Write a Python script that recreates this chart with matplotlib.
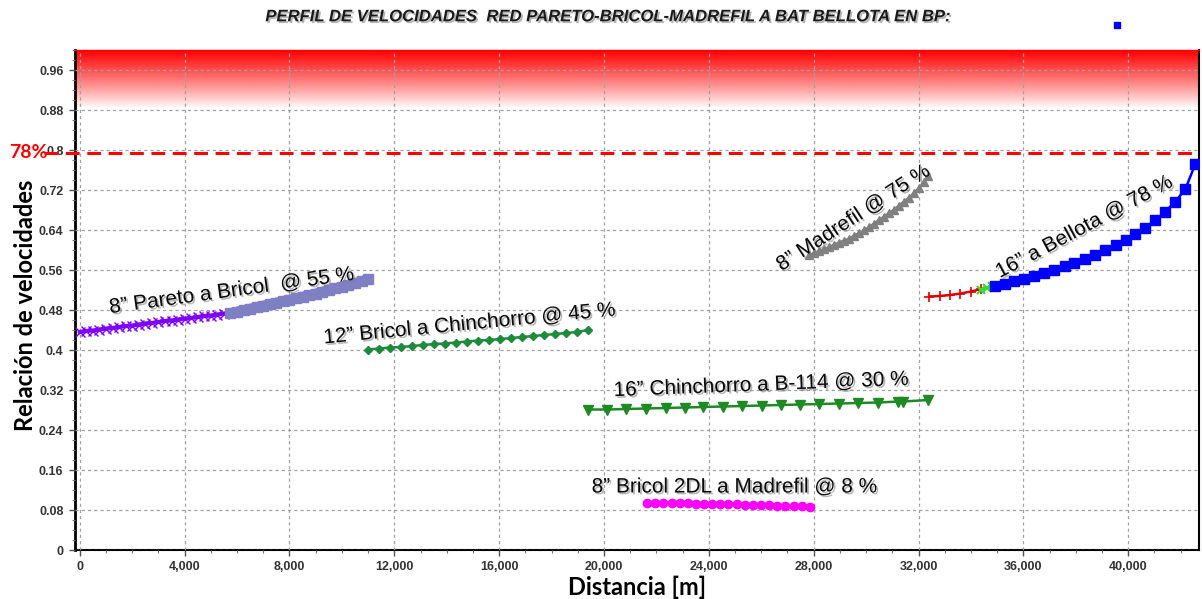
import numpy as np
import matplotlib
matplotlib.use("Agg")
import matplotlib.pyplot as plt
import matplotlib.patheffects as pe
from matplotlib.colors import LinearSegmentedColormap
from matplotlib.ticker import MultipleLocator

# ---- data -------------------------------------------------------------
pareto_x = [0, 250, 500, 750, 1000, 1250, 1500, 1750, 2000, 2250, 2500, 2750,
            3000, 3250, 3500, 3750, 4000, 4250, 4500, 4750, 5000, 5250, 5500, 5750]
pareto_v = [0.436, 0.438, 0.439, 0.441, 0.443, 0.444, 0.446, 0.448, 0.449, 0.451,
            0.453, 0.454, 0.456, 0.458, 0.459, 0.461, 0.463, 0.464, 0.466, 0.468,
            0.469, 0.471, 0.473, 0.474]

pareto2_x = [5750, 6000, 6250, 6500, 6750, 7000, 7250, 7500, 7750, 8000, 8250,
             8500, 8750, 9000, 9250, 9500, 9750, 10000, 10250, 10500, 10750, 11000]
pareto2_v = [0.474, 0.477, 0.480, 0.483, 0.486, 0.489, 0.492, 0.495, 0.498, 0.501,
             0.504, 0.507, 0.510, 0.513, 0.517, 0.520, 0.524, 0.527, 0.531, 0.534,
             0.538, 0.542]

bricol_x = [11000, 11420, 11840, 12260, 12680, 13100, 13520, 13940, 14360, 14780,
            15200, 15620, 16040, 16460, 16880, 17300, 17720, 18140, 18560, 18980, 19400]
bricol_v = [0.401, 0.403, 0.405, 0.406, 0.408, 0.410, 0.412, 0.413, 0.415, 0.417,
            0.419, 0.420, 0.422, 0.424, 0.426, 0.428, 0.430, 0.432, 0.434, 0.436, 0.440]

chinch_x = [19390, 20110, 20850, 21590, 22350, 23080, 23780, 24540, 25280, 26010,
            26740, 27470, 28210, 28970, 29700, 30460, 31220, 31410, 32360]
chinch_v = [0.281, 0.281, 0.282, 0.283, 0.284, 0.285, 0.286, 0.287, 0.288, 0.289,
            0.290, 0.291, 0.292, 0.293, 0.294, 0.295, 0.297, 0.297, 0.300]

twodl_x = [21650, 21960, 22270, 22580, 22890, 23200, 23510, 23820, 24130, 24440,
           24750, 25060, 25370, 25680, 25990, 26300, 26610, 26920, 27230, 27540, 27850]
twodl_v = [0.095, 0.095, 0.095, 0.094, 0.094, 0.094, 0.093, 0.093, 0.093, 0.092,
           0.092, 0.092, 0.091, 0.091, 0.090, 0.090, 0.089, 0.089, 0.088, 0.088, 0.087]

madre_x = [27840, 28030, 28220, 28410, 28600, 28790, 28980, 29170, 29360, 29550,
           29740, 29930, 30120, 30310, 30500, 30690, 30880, 31070, 31260, 31450,
           31640, 31830, 32020, 32210, 32350]
madre_v = [0.590, 0.594, 0.598, 0.602, 0.606, 0.611, 0.615, 0.619, 0.623, 0.629,
           0.634, 0.640, 0.646, 0.653, 0.660, 0.667, 0.674, 0.681, 0.689, 0.697,
           0.705, 0.714, 0.724, 0.736, 0.748]

red_x = [32400, 32800, 33200, 33600, 34000, 34400]
red_v = [0.507, 0.508, 0.510, 0.513, 0.517, 0.522]

lime_x = [34400, 34600, 34800]
lime_v = [0.521, 0.525, 0.528]

bellota_x = [34900, 35280, 35660, 36040, 36420, 36800, 37185, 37570, 37950, 38355,
             38750, 39130, 39535, 39920, 40275, 40655, 41040, 41420, 41800, 42180, 42560]
bellota_v = [0.528, 0.533, 0.538, 0.543, 0.549, 0.555, 0.561, 0.568, 0.575, 0.583,
             0.591, 0.600, 0.610, 0.620, 0.632, 0.645, 0.660, 0.677, 0.697, 0.722, 0.772]

limit_v = 0.795
y_ticks = [0, 0.08, 0.16, 0.24, 0.32, 0.40, 0.48, 0.56, 0.64, 0.72, 0.80, 0.88, 0.96]
y_labels = ["0", "0.08", "0.16", "0.24", "0.32", "0.4", "0.48", "0.56", "0.64",
            "0.72", "0.8", "0.88", "0.96"]
x_ticks = [0, 4000, 8000, 12000, 16000, 20000, 24000, 28000, 32000, 36000, 40000]
x_labels = ["0", "4,000", "8,000", "12,000", "16,000", "20,000", "24,000",
            "28,000", "32,000", "36,000", "40,000"]

# ---- figure -----------------------------------------------------------
fig = plt.figure(figsize=(12.02, 5.99), dpi=100)
ax = fig.add_axes([0.062, 0.0818, 0.9355, 0.8347])
xmin, xmax = -200, 42700
ax.set_xlim(xmin, xmax)
ax.set_ylim(0, 1.0)

# red alarm band at the top
cmap = LinearSegmentedColormap.from_list("band", ["#ffffff", "#ff0000"])
grad = np.linspace(0, 1, 256).reshape(-1, 1) ** 0.9
ax.imshow(grad, cmap=cmap, origin="lower", aspect="auto",
          extent=[xmin, xmax, 0.885, 1.0], zorder=0)

ax.grid(True, color="#a0a0a0", linestyle=(0, (2.5, 2.5)), linewidth=0.9, zorder=1)
ax.set_axisbelow(False)

shadow = [pe.withSimplePatchShadow(offset=(1.3, -1.3), shadow_rgbFace="#7a7a7a", alpha=0.55)]

# series
ax.plot(pareto_x, pareto_v, color="#8000ff", lw=3, marker="x", ms=6.5, mew=1.0, zorder=3)
ax.plot(pareto2_x, pareto2_v, color="#7f7fc4", lw=7, marker="s", ms=7.5, mec="#7f7fc4",
        solid_capstyle="butt", zorder=3)
ax.plot(bricol_x, bricol_v, color="#1e8a3c", lw=1.8, marker="D", ms=4.5, zorder=3)
ax.plot(chinch_x, chinch_v, color="#1e8a24", lw=1.8, marker="v", ms=7, zorder=3)
ax.plot(twodl_x, twodl_v, color="#ff00ff", lw=1.5, marker="o", ms=6, zorder=3)
ax.plot(madre_x, madre_v, color="#808080", lw=1.8, marker="^", ms=5.5, zorder=3)
ax.plot(red_x, red_v, color="#e00000", lw=1.8, marker="+", ms=7, mew=1.2, zorder=3)
ax.plot(lime_x, lime_v, color="#33dd33", lw=1.5, marker="x", ms=6, mew=1.5, zorder=3)
ax.plot(bellota_x, bellota_v, color="#0000ff", lw=1.8, marker="s", ms=6.5, zorder=3)

# limit line
trans = matplotlib.transforms.blended_transform_factory(ax.transAxes, ax.transData)
ax.plot([-0.027, 1.0], [limit_v, limit_v], color="#ff0000", lw=2.2,
        linestyle=(0, (4.5, 2.5)), transform=trans, clip_on=False, zorder=4)
ax.text(-0.024, limit_v, "78%", transform=trans, ha="right", va="center",
        color="#ff0000", fontsize=14, fontweight="bold", family="Lato")

# series labels
lab_font = dict(fontsize=15, family="Liberation Sans", color="#0a0a0a",
                ha="center", va="center", rotation_mode="anchor", zorder=5,
                path_effects=shadow)
ax.text(5800, 0.518, "8” Pareto a Bricol  @ 55 %", rotation=7.8, **lab_font)
ax.text(14875, 0.452, "12” Bricol a Chinchorro @ 45 %", rotation=5.5, **lab_font)
ax.text(26010, 0.330, "16” Chinchorro a B-114 @ 30 %", rotation=2.2, **lab_font)
ax.text(24980, 0.126, "8” Bricol 2DL a Madrefil @ 8 %", rotation=0, **lab_font)
ax.text(29520, 0.664, "8” Madrefil @ 75 %", rotation=33, **lab_font)
ax.text(38330, 0.646, "16” a Bellota @ 78 %", rotation=28, **lab_font)

# axes styling
ax.set_yticks(y_ticks)
ax.set_yticklabels(y_labels)
ax.set_xticks(x_ticks)
ax.set_xticklabels(x_labels)
ax.xaxis.set_minor_locator(MultipleLocator(1000))
ax.yaxis.set_minor_locator(MultipleLocator(0.02))
for lbl in ax.get_xticklabels() + ax.get_yticklabels():
    lbl.set_fontfamily(["Liberation Sans Narrow", "Liberation Sans"])
    lbl.set_fontweight("bold")
    lbl.set_fontsize(9)
    lbl.set_color("#333333")
ax.tick_params(axis="both", which="major", length=4, width=1, color="#555555", pad=4)
ax.tick_params(axis="both", which="minor", length=2, width=0.8, color="#777777")

for side in ["left", "bottom", "right"]:
    ax.spines[side].set_color("black")
ax.spines["left"].set_linewidth(2.0)
ax.spines["bottom"].set_linewidth(1.5)
ax.spines["right"].set_linewidth(1.5)
ax.spines["top"].set_color("#ff0000")
ax.spines["top"].set_linewidth(1.0)

ax.set_ylabel("Relación de velocidades", family="Lato", fontweight="bold",
              fontsize=17, color="black")
ax.yaxis.set_label_coords(-0.033, 0.49)
ax.set_xlabel("Distancia [m]", family="Lato", fontweight="bold",
              fontsize=17, color="black", labelpad=2)

fig.text(0.505, 0.972, "PERFIL DE VELOCIDADES  RED PARETO-BRICOL-MADREFIL A BAT BELLOTA EN BP:",
         ha="center", va="center", fontsize=12, fontweight="bold", style="italic",
         family="Liberation Sans", color="#1a1a1a", path_effects=shadow)

# stray legend marker above the plot
fig.add_artist(matplotlib.lines.Line2D([0.9293], [0.958], marker="s", ms=4.5,
                                       color="#0000ff", linestyle="none",
                                       transform=fig.transFigure))

fig.savefig("out.png", dpi=100)
